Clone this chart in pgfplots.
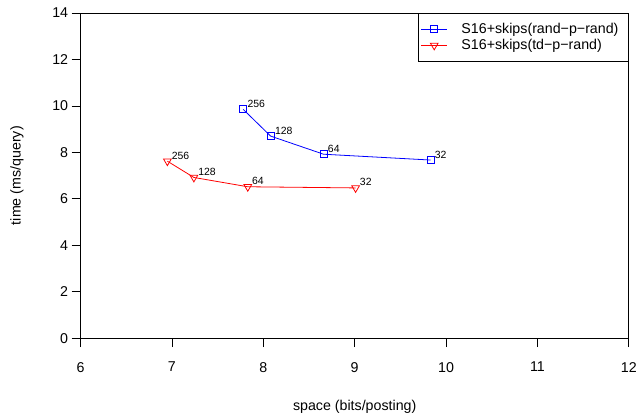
\documentclass[border=0pt]{standalone}
\usepackage{fontspec}
\setmainfont{Liberation Sans}
\usepackage{pgfplots}
\pgfplotsset{compat=1.18}
\usetikzlibrary{calc}

\begin{document}
\begin{tikzpicture}
\begin{axis}[
    width=551pt, height=327pt, scale only axis,
    xmin=6, xmax=12, ymin=0, ymax=14,
    xtick={6,7,8,9,10,11,12},
    ytick={0,2,4,6,8,10,12,14},
    tick align=outside, tick pos=left,
    major tick length=9pt,
    tick style={black, line width=0.7pt},
    axis line style={line width=0.7pt},
    /pgf/number format/assume math mode=true,
    ticklabel style={font=\fontsize{14.3}{16}\selectfont},
    xticklabel style={yshift=-11.5pt},
    yticklabel style={xshift=0pt},
    xlabel={space (bits/posting)},
    ylabel={time (ms/query)},
    label style={font=\fontsize{14.3}{16}\selectfont},
    xlabel style={at={(axis description cs:0.5,-0.212)}, anchor=center},
    ylabel style={at={(axis description cs:-0.116,0.5)}, anchor=center},
    legend style={at={(1,1)}, anchor=north east, draw=black, line width=0.7pt,
        font=\fontsize{14.3}{16}\selectfont, inner xsep=3pt, inner ysep=10pt,
        row sep=4.5pt, nodes={inner sep=0pt},
        /tikz/every odd column/.style={column sep=14pt}},
    legend cell align=left,
    legend image code/.code={
        \draw[mark repeat=2, mark phase=2]
            plot coordinates {(0pt,0pt) (13pt,0pt) (26pt,0pt)};},
    nodes near coords style={anchor=base west, xshift=4pt, yshift=2pt,
        inner sep=0pt, black, font=\fontsize{10.5}{12}\selectfont},
]
\addplot[blue, line width=0.8pt, mark=square, mark size=3.5pt,
    nodes near coords, point meta=explicit symbolic]
    table[meta=label] {
x     y     label
7.78  9.85  256
8.08  8.70  128
8.66  7.92  64
9.83  7.67  32
};
\addlegendentry{S16+skips(rand−p−rand)\hspace*{7pt}}
\addplot[red, line width=0.8pt, mark=triangle, mark options={rotate=180}, mark size=4.5pt,
    nodes near coords, point meta=explicit symbolic]
    table[meta=label] {
x     y     label
6.95  7.62  256
7.24  6.92  128
7.83  6.52  64
9.01  6.47  32
};
\addlegendentry{S16+skips(td−p−rand)}
\coordinate (bl) at (rel axis cs:0,0);
\coordinate (tr) at (rel axis cs:1,1);
\end{axis}
\path ($(bl)+(-81pt,-78pt)$) rectangle ($(tr)+(8pt,13pt)$);
\end{tikzpicture}
\end{document}
